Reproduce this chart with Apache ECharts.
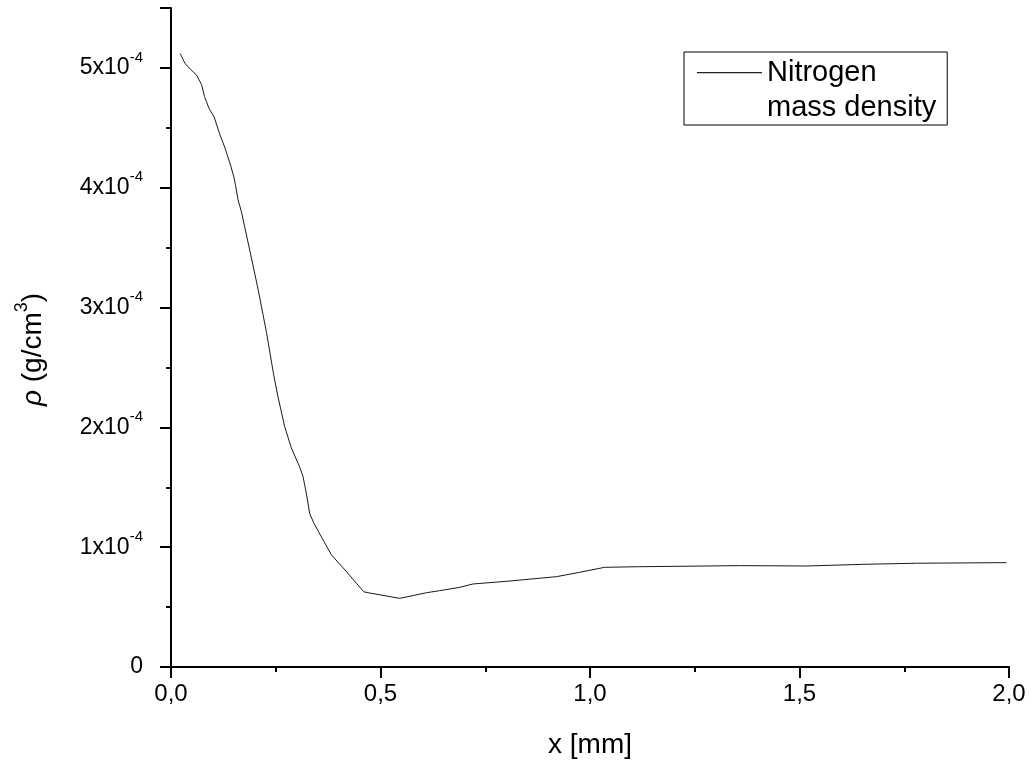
<!DOCTYPE html>
<html>
<head>
<meta charset="utf-8">
<title>Nitrogen mass density</title>
<script src="https://cdn.jsdelivr.net/npm/echarts@6/dist/echarts.min.js"></script>
<style>
  html, body { margin: 0; padding: 0; background: #fff; }
  #chart { width: 1034px; height: 763px; }
</style>
</head>
<body>
<div id="chart"></div>
<script>
// Position along the sample, in mm
const xPositions = [
  0.022, 0.033, 0.046, 0.061, 0.073, 0.080, 0.091, 0.103, 0.116, 0.128,
  0.142, 0.150, 0.154, 0.160, 0.168, 0.186, 0.208, 0.228, 0.245, 0.255,
  0.271, 0.287, 0.307, 0.315, 0.323, 0.331, 0.341, 0.363, 0.383, 0.419,
  0.460, 0.470, 0.546, 0.610, 0.641, 0.689, 0.721, 0.800, 0.920, 0.975,
  1.035, 1.119, 1.200, 1.357, 1.516, 1.651, 1.779, 1.994
];
// Nitrogen mass density, g/cm^3
const rhoValues = [
  5.12e-4, 5.04e-4, 4.99e-4, 4.94e-4, 4.86e-4, 4.76e-4, 4.66e-4, 4.59e-4, 4.45e-4, 4.34e-4,
  4.19e-4, 4.09e-4, 4.02e-4, 3.90e-4, 3.80e-4, 3.51e-4, 3.15e-4, 2.79e-4, 2.44e-4, 2.26e-4,
  2.01e-4, 1.83e-4, 1.67e-4, 1.59e-4, 1.45e-4, 1.28e-4, 1.20e-4, 1.06e-4, 0.935e-4, 0.795e-4,
  0.628e-4, 0.620e-4, 0.573e-4, 0.620e-4, 0.637e-4, 0.665e-4, 0.693e-4, 0.715e-4, 0.754e-4, 0.790e-4,
  0.832e-4, 0.837e-4, 0.840e-4, 0.846e-4, 0.843e-4, 0.857e-4, 0.866e-4, 0.871e-4
];
const seriesName = 'Nitrogen';
const legendText = 'Nitrogen\nmass density';
const xTitle = 'x [mm]';
const yTitle = '{i|ρ} (g/cm{sup|3})';
const yExponent = -4;

const FONT = 'Arial, "Liberation Sans", sans-serif';
const INK = '#000';

const chart = echarts.init(document.getElementById('chart'), null, { renderer: 'canvas' });

chart.setOption({
  animation: false,
  backgroundColor: '#fff',
  textStyle: { fontFamily: FONT, color: INK },
  grid: { left: 171, right: 25, top: 8, bottom: 96, containLabel: false, outerBoundsMode: 'none' },
  legend: {
    left: 684,
    top: 52,
    orient: 'vertical',
    padding: [3, 11, 0, 13],
    borderColor: INK,
    borderWidth: 1,
    itemWidth: 65,
    itemHeight: 36,
    // the sample line sits at the top of the item so it lines up with the first text line
    icon: 'path://M0,0L65,0L65,1.2L0,1.2Z M0,36L65,36Z',
    itemStyle: { color: '#222', borderWidth: 0 },
    formatter: () => legendText,
    textStyle: { fontFamily: FONT, fontSize: 29, lineHeight: 35, color: INK },
    data: [seriesName]
  },
  xAxis: {
    type: 'value',
    min: 0,
    max: 2,
    interval: 0.5,
    name: xTitle,
    nameLocation: 'middle',
    nameGap: 64,
    nameTextStyle: { fontFamily: FONT, fontSize: 28, color: INK },
    axisLine: { show: true, onZero: false, lineStyle: { color: INK, width: 2 } },
    axisTick: { show: true, inside: false, length: 11, lineStyle: { color: INK, width: 2 } },
    minorTick: { show: true, splitNumber: 2, length: 5, lineStyle: { color: INK, width: 2 } },
    splitLine: { show: false },
    minorSplitLine: { show: false },
    axisLabel: {
      margin: 15,
      fontFamily: FONT,
      fontSize: 24,
      color: INK,
      formatter: v => v.toFixed(1).replace('.', ',')
    }
  },
  yAxis: {
    type: 'value',
    min: 0,
    max: 5.5e-4,
    interval: 1e-4,
    name: yTitle,
    nameLocation: 'middle',
    nameRotate: 90,
    nameGap: 118,
    nameTextStyle: {
      fontFamily: FONT,
      fontSize: 28,
      color: INK,
      padding: [0, 24, 0, 0],
      rich: {
        i: { fontFamily: FONT, fontSize: 28, fontStyle: 'italic', lineHeight: 40, color: INK },
        sup: { fontFamily: FONT, fontSize: 18, verticalAlign: 'top', color: INK }
      }
    },
    axisLine: { show: true, onZero: false, lineStyle: { color: INK, width: 2 } },
    axisTick: { show: true, inside: false, length: 11, lineStyle: { color: INK, width: 2 } },
    minorTick: { show: true, splitNumber: 2, length: 5, lineStyle: { color: INK, width: 2 } },
    splitLine: { show: false },
    minorSplitLine: { show: false },
    axisLabel: {
      margin: 28,
      fontFamily: FONT,
      fontSize: 23,
      color: INK,
      showMaxLabel: false,
      formatter: v => {
        const m = v / Math.pow(10, yExponent);
        if (Math.abs(m - Math.round(m)) > 1e-6) return '';
        if (Math.round(m) === 0) return '{b|0}';
        return '{b|' + Math.round(m) + 'x10}{s|' + yExponent + '}';
      },
      rich: {
        b: { fontFamily: FONT, fontSize: 23, lineHeight: 36, color: INK },
        s: { fontFamily: FONT, fontSize: 15, verticalAlign: 'top', color: INK }
      }
    }
  },
  series: [{
    name: seriesName,
    type: 'line',
    data: xPositions.map((x, i) => [x, rhoValues[i]]),
    symbol: 'none',
    smooth: false,
    clip: true,
    lineStyle: { color: '#1a1a1a', width: 1 },
    itemStyle: { color: '#1a1a1a' }
  }]
});
</script>
</body>
</html>
